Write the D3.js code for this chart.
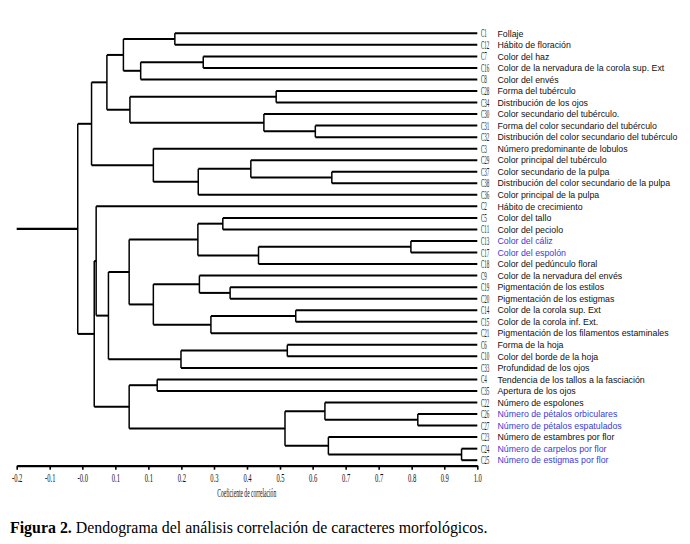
<!DOCTYPE html>
<html>
<head>
<meta charset="utf-8">
<script src="https://cdn.jsdelivr.net/npm/d3@7"></script>
<style>
  body { margin: 0; background: #fff; }
</style>
</head>
<body>
<svg id="chart" width="690" height="544"></svg>
<script>
// ── Data ────────────────────────────────────────────────────────────────────
const leafCodes = [
  "C1", "C12", "C7", "C16", "C8", "C28", "C34", "C30", "C31", "C32",
  "C3", "C29", "C37", "C38", "C36", "C2", "C5", "C11", "C13", "C17",
  "C18", "C9", "C19", "C20", "C14", "C15", "C21", "C6", "C10", "C33",
  "C4", "C35", "C22", "C26", "C27", "C23", "C24", "C25",
];

const leafLabels = [
  "Follaje", "Hábito de floración", "Color del haz",
  "Color de la nervadura de la corola sup. Ext", "Color del envés",
  "Forma del tubérculo", "Distribución de los ojos",
  "Color secundario del tubérculo.", "Forma del color secundario del tubérculo",
  "Distribución del color secundario del tubérculo",
  "Número predominante de lobulos", "Color principal del tubérculo",
  "Color secundario de la pulpa", "Distribución del color secundario de la pulpa",
  "Color principal de la pulpa", "Hábito de crecimiento", "Color del tallo",
  "Color del peciolo", "Color del cáliz", "Color del espolón",
  "Color del pedúnculo floral", "Color de la nervadura del envés",
  "Pigmentación de los estilos", "Pigmentación de los estigmas",
  "Color de la corola sup. Ext", "Color de la corola inf. Ext.",
  "Pigmentación de los filamentos estaminales", "Forma de la hoja",
  "Color del borde de la hoja", "Profundidad de los ojos",
  "Tendencia de los tallos a la fasciación", "Apertura de los ojos",
  "Número de espolones", "Número de pétalos orbiculares",
  "Número de pétalos espatulados", "Número de estambres por flor",
  "Número de carpelos por flor", "Número de estigmas por flor",
];

// labels printed in blue in the figure
const blueLeaves = ["C13", "C17", "C26", "C27", "C24", "C25"];

// merges: [upper child, lower child, correlation]; a number points to an earlier merge
const merges = [
  ["C1", "C12", 0.212],   // 0
  ["C7", "C16", 0.286],   // 1
  [1, "C8", 0.123],       // 2
  [0, 2, 0.078],          // 3
  ["C28", "C34", 0.476],  // 4
  ["C31", "C32", 0.578],  // 5
  ["C30", 5, 0.444],      // 6
  [4, 6, 0.095],          // 7
  [3, 7, 0.035],          // 8
  ["C37", "C38", 0.621],  // 9
  ["C29", 9, 0.410],      // 10
  [10, "C36", 0.273],     // 11
  ["C3", 11, 0.156],      // 12
  [8, 12, -0.005],        // 13
  ["C5", "C11", 0.337],   // 14
  ["C13", "C17", 0.827],  // 15
  [15, "C18", 0.430],     // 16
  [14, 16, 0.272],        // 17
  ["C19", "C20", 0.356],  // 18
  ["C9", 18, 0.276],      // 19
  ["C14", "C15", 0.527],  // 20
  [20, "C21", 0.306],     // 21
  [19, 21, 0.156],        // 22
  [17, 22, 0.093],        // 23
  ["C6", "C10", 0.505],   // 24
  [24, "C33", 0.228],     // 25
  [23, 25, 0.039],        // 26
  ["C2", 26, 0.007],      // 27
  ["C4", "C35", 0.166],   // 28
  ["C26", "C27", 0.845],  // 29
  ["C22", 29, 0.603],     // 30
  ["C24", "C25", 0.959],  // 31
  ["C23", 31, 0.612],     // 32
  [30, 32, 0.499],        // 33
  [28, 33, 0.093],        // 34
  [27, 34, 0.002],        // 35
  [13, 35, -0.041],       // 36 root
];

const tickValues = [-0.2, -0.114, -0.029, 0.057, 0.143, 0.229, 0.314, 0.4,
                    0.486, 0.571, 0.657, 0.743, 0.829, 0.914, 1.0];
const tickLabels = ["-0.2", "-0.1", "-0.0", "0.1", "0.1", "0.2", "0.3", "0.4",
                    "0.5", "0.6", "0.7", "0.7", "0.8", "0.9", "1.0"];

// ── Tree ────────────────────────────────────────────────────────────────────
function toNode(ref) {
  if (typeof ref === "string") return { code: ref, h: 1.0 };
  const [a, b, h] = merges[ref];
  return { h, children: [toNode(a), toNode(b)] };
}
const root = d3.hierarchy(toNode(merges.length - 1));

// ── Scales ──────────────────────────────────────────────────────────────────
const x = d3.scaleLinear().domain([-0.2, 1.0]).range([16.7, 477.3]);
const y = d3.scalePoint().domain(leafCodes).range([33.3, 460.2]);

root.eachAfter(n => {
  n.py = n.children ? d3.mean(n.children, c => c.py) : y(n.data.code);
});

const svg = d3.select("#chart");
const lineColor = "#000";

// ── Branches ────────────────────────────────────────────────────────────────
const g = svg.append("g")
  .attr("fill", "none")
  .attr("stroke", lineColor)
  .attr("stroke-width", 2);

root.each(n => {
  if (!n.children) return;
  const xn = x(n.data.h);
  g.append("path")
    .attr("d", `M${xn},${n.children[0].py}V${n.children[1].py}`)
    .attr("stroke-width", 1.5);
  n.children.forEach(c => {
    g.append("path").attr("d", `M${xn},${c.py}H${x(c.data.h)}`);
  });
});
// stub of the root
g.append("path").attr("d", `M${x(-0.2)},${root.py}H${x(root.data.h)}`).attr("stroke-width", 2.4);

// ── Leaf labels ─────────────────────────────────────────────────────────────
const leaves = svg.append("g").selectAll("g")
  .data(leafCodes)
  .join("g")
  .attr("transform", d => `translate(0,${y(d)})`);

leaves.append("text")
  .attr("transform", "translate(481,4) scale(0.42,1)")
  .attr("font-family", "Liberation Serif")
  .attr("font-size", 12)
  .attr("fill", "#222")
  .text(d => d);

leaves.append("text")
  .attr("x", 497.5)
  .attr("y", 3.2)
  .attr("font-family", "Liberation Sans")
  .attr("font-size", 8.8)
  .attr("fill", d => blueLeaves.includes(d) ? "#3b3bd6" : "#111")
  .text((d, i) => leafLabels[i]);

// ── Axis ────────────────────────────────────────────────────────────────────
const axis = svg.append("g")
  .attr("transform", "translate(0,465.7)")
  .call(d3.axisBottom(x)
    .tickValues(tickValues)
    .tickFormat((d, i) => tickLabels[i])
    .tickSize(4)
    .tickSizeOuter(0)
    .tickPadding(4));

axis.select(".domain").attr("stroke", lineColor).attr("stroke-width", 2.2);
axis.selectAll(".tick line").attr("stroke", lineColor).attr("stroke-width", 1.6);
axis.selectAll(".tick text")
  .attr("font-family", "Liberation Serif")
  .attr("font-size", 12)
  .attr("fill", "#111")
  .attr("transform", "scale(0.55,1)");

svg.append("text")
  .attr("x", 246.7)
  .attr("y", 497)
  .attr("text-anchor", "middle")
  .attr("font-family", "Liberation Serif")
  .attr("font-size", 11.5)
  .attr("textLength", 59)
  .attr("lengthAdjust", "spacingAndGlyphs")
  .attr("fill", "#111")
  .text("Coeficiente de correlación");

// ── Caption ─────────────────────────────────────────────────────────────────
const caption = svg.append("text")
  .attr("x", 10)
  .attr("y", 533)
  .attr("font-family", "Liberation Serif")
  .attr("font-size", 15.9)
  .attr("fill", "#000");
caption.append("tspan").attr("font-weight", "bold").text("Figura 2.");
caption.append("tspan").text(" Dendograma del análisis correlación de caracteres morfológicos.");
</script>
</body>
</html>
